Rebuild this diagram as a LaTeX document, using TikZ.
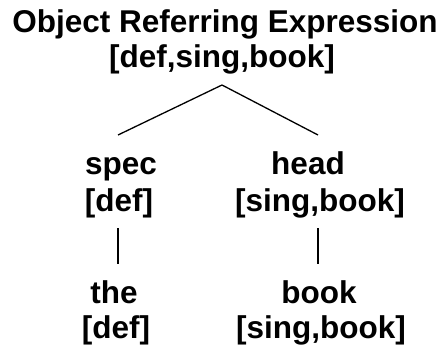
\documentclass[tikz,border=0pt]{standalone}
\usepackage{fontspec}
\setmainfont{Liberation Sans}
\usepackage{tikz}
\usetikzlibrary{calc, positioning}
\tikzstyle{lbl}=[anchor=base, inner sep=0pt, font=\fontsize{31.5}{36}\selectfont\bfseries]
\tikzstyle{edge}=[draw=black, line width=1.3pt]

\begin{document}
\begin{tikzpicture}[x=1pt, y=-1pt]
		\useasboundingbox (0,0) rectangle (444,350);

		\node[style=lbl] (ore) at (225, 33) {Object Referring Expression};
		\node[style=lbl] (orefeat) at (222, 68) {[def,sing,book]};

		\node[style=lbl] (spec) at (121, 174) {spec};
		\node[style=lbl] (specfeat) at (119, 211) {[def]};
		\node[style=lbl] (head) at (308, 174) {head};
		\node[style=lbl] (headfeat) at (320, 211) {[sing,book]};

		\node[style=lbl] (the) at (114, 303) {the};
		\node[style=lbl] (thefeat) at (116, 338) {[def]};
		\node[style=lbl] (book) at (319, 303) {book};
		\node[style=lbl] (bookfeat) at (321, 338) {[sing,book]};

		\coordinate (apex) at (222, 85);
		\coordinate (specup) at (118, 135);
		\coordinate (headup) at (318, 135);
		\coordinate (specdown) at (118, 228);
		\coordinate (thefeatup) at (118, 264);
		\coordinate (headdown) at (318, 228);
		\coordinate (bookup) at (318, 264);

		\draw[style=edge] (apex) to (specup);
		\draw[style=edge] (apex) to (headup);
		\draw[style=edge] (specdown) to (thefeatup);
		\draw[style=edge] (headdown) to (bookup);
	\end{tikzpicture}
\end{document}
